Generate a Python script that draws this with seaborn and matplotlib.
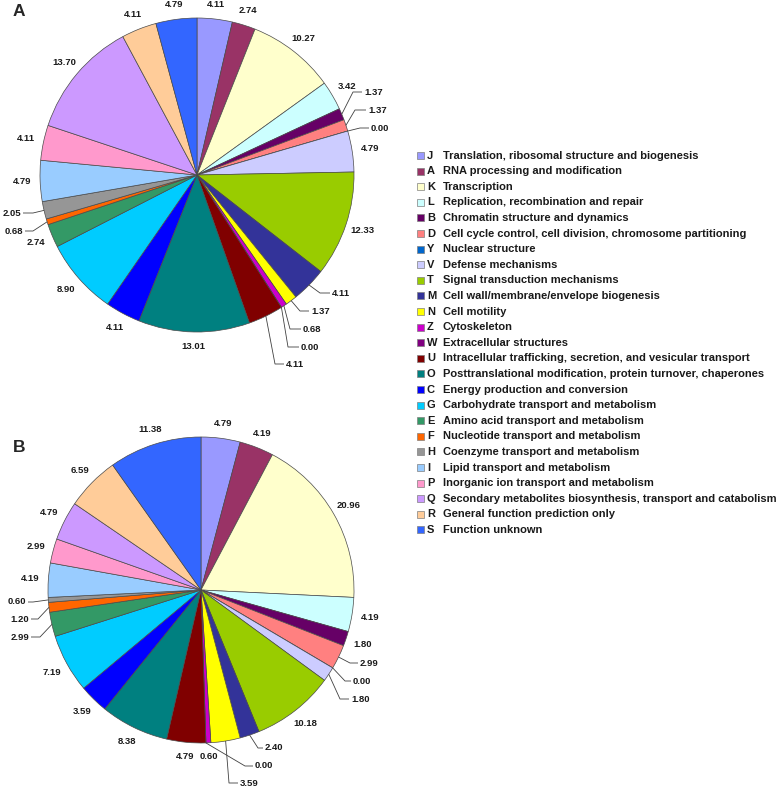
"""
COG functional classification pies (A and B) with a shared category key
"""

import numpy as np
import matplotlib.pyplot as plt
import seaborn as sns

codes = ["J", "A", "K", "L", "B", "D", "Y", "V", "T", "M", "N", "Z", "W",
         "U", "O", "C", "G", "E", "F", "H", "I", "P", "Q", "R", "S"]
descriptions = [
    "Translation, ribosomal structure and biogenesis",
    "RNA processing and modification",
    "Transcription",
    "Replication, recombination and repair",
    "Chromatin structure and dynamics",
    "Cell cycle control, cell division, chromosome partitioning",
    "Nuclear structure",
    "Defense mechanisms",
    "Signal transduction mechanisms",
    "Cell wall/membrane/envelope biogenesis",
    "Cell motility",
    "Cytoskeleton",
    "Extracellular structures",
    "Intracellular trafficking, secretion, and vesicular transport",
    "Posttranslational modification, protein turnover, chaperones",
    "Energy production and conversion",
    "Carbohydrate transport and metabolism",
    "Amino acid transport and metabolism",
    "Nucleotide transport and metabolism",
    "Coenzyme transport and metabolism",
    "Lipid transport and metabolism",
    "Inorganic ion transport and metabolism",
    "Secondary metabolites biosynthesis, transport and catabolism",
    "General function prediction only",
    "Function unknown",
]
pct_a = [4.11, 2.74, 10.27, 3.42, 1.37, 1.37, 0.00, 4.79, 12.33, 4.11, 1.37, 0.68, 0.00,
         4.11, 13.01, 4.11, 8.90, 2.74, 0.68, 2.05, 4.79, 4.11, 13.70, 4.11, 4.79]
pct_b = [4.79, 4.19, 20.96, 4.19, 1.80, 2.99, 0.00, 1.80, 10.18, 2.40, 3.59, 0.60, 0.00,
         4.79, 8.38, 3.59, 7.19, 2.99, 1.20, 0.60, 4.19, 2.99, 4.79, 6.59, 11.38]
colors = ["#9999FF", "#993366", "#FFFFCC", "#CCFFFF", "#660066", "#FF8080", "#0066CC",
          "#CCCCFF", "#99CC00", "#333399", "#FFFF00", "#CC00CC", "#800080", "#800000",
          "#008080", "#0000FF", "#00CCFF", "#339966", "#FF6600", "#969696", "#99CCFF",
          "#FF99CC", "#CC99FF", "#FFCC99", "#3366FF"]

# leader-line labels: slice index -> (text x, text y, elbow x), image pixels
leaders_a = {4: (364, 92, 353), 5: (368, 110, 355), 6: (371, 128, 360),
             9: (332, 293, 320), 10: (311, 311, 300), 11: (303, 329, 290),
             12: (301, 347, 288), 13: (286, 364, 275),
             18: (23, 231, 33), 19: (21, 213, 33)}
leaders_b = {5: (360, 663, 350), 6: (353, 681, 345), 7: (351, 699, 340),
             9: (265, 748, 258), 12: (255, 766, 245), 10: (240, 783, 229),
             17: (29, 637, 40), 18: (29, 619, 38), 19: (26, 602, 33)}

sns.set_theme(style="white")
plt.rcParams['font.family'] = ['Liberation Sans', 'DejaVu Sans']

W, H = 778, 789
fig = plt.figure(figsize=(W / 100, H / 100), dpi=100)
ax = fig.add_axes([0, 0, 1, 1])
palette = sns.color_palette(colors)


def draw_pie(values, cx, cy, r, leaders):
    """Draw one pie centred at image pixel (cx, cy) with value labels"""
    cy = H - cy
    wedges, _ = ax.pie(values, colors=palette, startangle=90, counterclock=False,
                       center=(cx, cy), radius=r,
                       wedgeprops=dict(edgecolor='#4a4a4a', linewidth=0.5))
    for i, (w, v) in enumerate(zip(wedges, values)):
        mid = np.deg2rad((w.theta1 + w.theta2) / 2)
        c, s = np.cos(mid), np.sin(mid)
        label = f"{v:.2f}"
        if i in leaders:
            tx, ty, ex = leaders[i]
            ty = H - ty
            right = tx > cx
            end = tx - 2 if right else tx + 2
            ax.plot([cx + r * c, ex, end], [cy + r * s, ty, ty],
                    color='#404040', lw=0.6, solid_capstyle='butt')
            ax.text(tx, ty, label, ha='left' if right else 'right', va='center',
                    fontsize=6.8, fontweight='bold', color='#1a1a1a')
        else:
            d = r + 14 + 4 * abs(c)
            ax.text(cx + d * c, cy + d * s, label, ha='center', va='center',
                    fontsize=6.8, fontweight='bold', color='#1a1a1a')


draw_pie(pct_a, 197, 175, 157, leaders_a)
draw_pie(pct_b, 201, 590, 153, leaders_b)

ax.text(19, H - 11, "A", ha='center', va='center', fontsize=12.5, fontweight='bold')
ax.text(19, H - 447, "B", ha='center', va='center', fontsize=12.5, fontweight='bold')

# category key
y0, step = 155.5, 15.6
for i, (code, desc) in enumerate(zip(codes, descriptions)):
    y = H - (y0 + i * step)
    ax.add_patch(plt.Rectangle((417, y - 3.5), 7, 7, facecolor=palette[i],
                               edgecolor='#808080', linewidth=0.5))
    ax.text(427, y, code, ha='left', va='center', fontsize=8, fontweight='bold',
            color='#1a1a1a')
    ax.text(443, y, desc, ha='left', va='center', fontsize=8, fontweight='bold',
            color='#1a1a1a')

ax.set_xlim(0, W)
ax.set_ylim(0, H)
ax.set_aspect('equal')
ax.axis('off')

fig.savefig('out.png', dpi=100, facecolor='white')
